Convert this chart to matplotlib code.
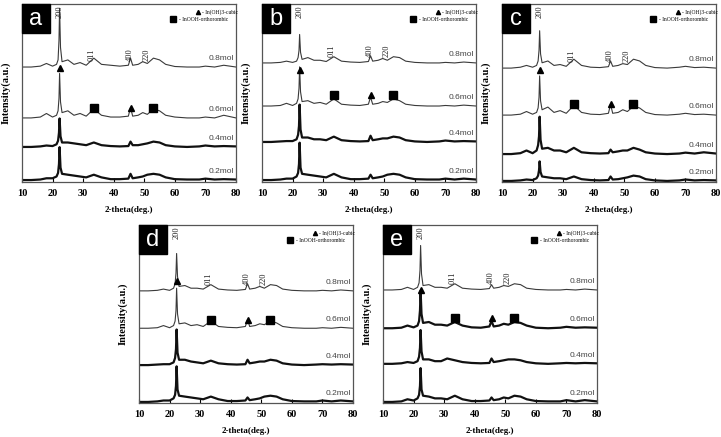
import matplotlib
matplotlib.use('Agg')
import matplotlib.pyplot as plt
from matplotlib.patches import Rectangle

# 2-theta grid shared by all patterns
two_theta = [10, 13, 16, 18, 20, 21.3, 21.8, 22.1, 22.3, 22.6, 23.1, 25, 27, 29, 31, 33.5, 36, 39, 42,
             44.8, 45.5, 46.2, 48, 49.5, 51, 53, 55, 57, 60, 64, 68, 70, 73, 76, 80]

mol_labels = ['0.8mol', '0.6mol', '0.4mol', '0.2mol']

# intensities above each pattern's own baseline (a.u.)
a08 = [0, 0, 0.5, 2, 0.5, 1.5, 4, 15, 33, 11, 3, 4, 1.5, 2.5, 1, 5, 1.5, 1, 0.5, 1, 5, 1, 1.5, 3, 2, 5, 4, 1.5, 0.3, 0, 0, 0.5, 0, 1, 0]
a06 = [0, 0, 0.5, 2.5, 0.5, 1.5, 4, 11, 25, 9, 3, 4, 1.5, 2.5, 1, 5, 1.5, 0.5, 0.5, 1, 6, 1, 1.5, 3, 2, 5, 4, 1.5, 0.5, 0, 0, 0.5, 0, 1.5, 0]
a04 = [0, 0, 0.3, 0.8, 0.5, 1.5, 3.5, 8, 16, 6, 2.5, 2.5, 2, 1.5, 1, 2.5, 1, 0.5, 0.3, 0.5, 3, 1, 1, 1.5, 2, 3, 2.5, 1, 0.3, 0, 0.3, 0.8, 0.3, 0.5, 0.3]
a02 = [0, 0, 0.3, 1, 1, 2, 4, 9, 18.5, 7, 3.5, 3, 2.5, 2, 1.5, 3, 1.5, 0.5, 0.5, 0.8, 3.5, 1, 1.5, 2, 3, 3.5, 3, 1.5, 0.5, 0.3, 0.3, 0.8, 0.3, 0.5, 0.3]

b08 = [0, 0, 0.3, 1, 0.3, 1, 3, 7, 16, 6, 2, 3, 1.5, 1.5, 0.8, 3.5, 1, 0.5, 0.3, 0.8, 4, 1, 1.5, 2.5, 1.5, 3.5, 3, 1, 0.3, 0, 0, 0.3, 0, 0.5, 0]
b06 = [0, 0, 0.3, 1.5, 0.3, 1.5, 4, 10, 22, 8, 2.5, 3, 1.5, 2, 1, 4, 1, 0.5, 0.3, 1, 5, 1, 1.5, 2.5, 2, 4, 3, 1, 0.3, 0, 0, 0.3, 0, 0.5, 0]
b04 = [0, 0, 0.3, 0.5, 0.5, 1.5, 4, 9, 21, 7, 2.5, 2.5, 1.5, 1.5, 1, 3, 1, 0.5, 0.3, 0.5, 3.5, 1, 1.5, 2, 2, 3, 2.5, 1, 0.3, 0, 0.3, 0.8, 0.3, 0.5, 0.3]
b02 = [0, 0, 0.3, 0.8, 0.8, 2, 4, 9, 21, 7, 3.5, 3, 2.5, 2, 1.5, 3.5, 1.5, 0.5, 0.5, 0.8, 3, 1, 1.5, 2, 3, 3.5, 3, 1.5, 0.5, 0.3, 0.3, 0.8, 0.3, 0.8, 0.3]

c08 = [0, 0, 0.5, 1.5, 0.5, 1.5, 4, 10, 21, 8, 3, 4, 1.5, 2, 1, 5, 1.5, 0.5, 0.3, 0.8, 4, 1, 1.5, 2.5, 2, 5, 4, 1.5, 0.3, 0, 0.5, 1, 0.3, 0.5, 0]
c06 = [0, 0, 0.5, 2, 0.5, 1.5, 4, 10, 22, 8, 3, 4.5, 1.5, 2.5, 1, 5.5, 1.5, 0.5, 0.3, 1, 6, 1, 1.5, 3, 2, 5, 4, 1.5, 0.3, 0, 0.5, 1, 0.3, 0.5, 0]
c04 = [0, 0, 0.5, 2, 0.5, 2, 5, 10, 21, 8, 3, 3.5, 2, 2, 1, 3.5, 1, 0.5, 0.3, 0.5, 2.5, 1, 1.5, 2, 2, 3.5, 2.5, 1, 0.3, 0, 0.3, 0.8, 0.3, 1, 0.3]
c02 = [0, 0, 0.3, 0.8, 0.5, 1.5, 3, 6, 11, 5, 2.5, 2, 1.5, 1.5, 1, 2.5, 1, 0.5, 0.3, 0.5, 2.5, 0.8, 1, 1.5, 2, 3, 2.5, 1, 0.3, 0, 0.3, 0.8, 0.3, 0.5, 0.3]

d08 = [0, 0, 0.3, 1, 0.3, 1.5, 4, 10, 21, 8, 2.5, 3, 1.5, 1.5, 1, 3.5, 1, 0.5, 0.3, 0.8, 4, 1, 1.5, 2.5, 1.5, 3.5, 3, 1, 0.3, 0, 0, 0.3, 0, 0.5, 0]
d06 = [0, 0, 0.3, 1.5, 0.3, 1.5, 4, 10, 22.5, 8, 2.5, 3, 1.5, 2, 1, 4, 1, 0.5, 0.3, 1, 5, 1, 1.5, 2.5, 2, 4, 3, 1, 0.3, 0, 0, 0.3, 0, 0.5, 0]
d04 = [0, 0, 0.3, 0.5, 0.5, 1.5, 4, 9, 20, 7, 3, 3, 2, 1.5, 1, 2.5, 1, 0.5, 0.3, 0.5, 3, 1, 1.5, 2, 2, 3, 2.5, 1, 0.3, 0, 0.3, 0.5, 0.3, 0.5, 0.3]
d02 = [0, 0, 0.3, 0.8, 0.8, 2, 4, 9, 20, 7, 3.5, 3, 2.5, 2, 1.5, 3, 1.5, 0.5, 0.5, 0.8, 2.5, 1, 1.5, 2, 3, 3.5, 3, 1.5, 0.5, 0.3, 0.3, 0.8, 0.3, 0.8, 0.3]

e08 = [0, 0, 0.3, 1.5, 0.3, 1.5, 4, 11, 25, 9, 2.5, 3, 1.5, 1.5, 1, 3.5, 1, 0.5, 0.3, 0.8, 3, 1, 1.5, 2.5, 2, 3.5, 3, 1, 0.3, 0, 0, 0.3, 0, 0.5, 0]
e06 = [0, 0, 0.3, 1.5, 0.5, 1.5, 4, 10, 21, 8, 3, 3.5, 2, 2, 1.5, 3.5, 1.5, 0.5, 0.3, 1, 4, 1, 1.5, 2.5, 2, 3.5, 3, 1.5, 0.3, 0, 0.3, 0.8, 0.3, 0.5, 0.3]
e04 = [0, 0, 0.3, 1, 0.5, 1.5, 4, 9, 19, 7, 2.5, 2.5, 1.5, 1.5, 3, 2, 1, 0.5, 0.3, 0.5, 3, 1, 1.5, 2, 2.5, 2.5, 2, 1, 0.3, 0, 0.3, 0.5, 0.3, 0.5, 0.3]
e02 = [0, 0, 0.3, 1.5, 0.8, 2, 4, 9, 19, 7, 3.5, 3, 2, 2, 1.5, 3.5, 1.5, 0.5, 0.5, 0.8, 2.5, 1, 1.5, 2.5, 2, 3.5, 3, 1.5, 0.5, 0.3, 0.3, 1, 0.3, 1, 0.3]

# stacking offsets (0.8, 0.6, 0.4, 0.2 mol)
a_offsets = [64.6, 36, 19.7, 1.1]
b_offsets = [66.9, 42.7, 22.5, 1.1]
c_offsets = [64, 37.6, 15.7, 0.6]
d_offsets = [63, 42, 21.3, 0.6]
e_offsets = [63.5, 42, 22, 0.6]

# which patterns are printed with the heavy (noisy) trace
a_heavy = [False, False, True, True]
b_heavy = [False, False, True, True]
c_heavy = [False, False, True, True]
d_heavy = [False, False, True, True]
e_heavy = [False, True, True, True]

# phase markers: In(OH)3 triangles, InOOH squares
tri_x = [22.3, 45.5]
sq_x = [33.6, 53]
a_marks = [64, 41.6]
b_marks = [63, 49]
c_marks = [63, 44]
d_marks = [68.5, 46.6]
e_marks = [63.5, 48]

hkl = ['200', '011', '400', '220']
hkl_x = [22.3, 32.8, 45.3, 50.8]

panels = {
    'a': ([a08, a06, a04, a02], a_offsets, a_heavy, a_marks, [0.0305, 0.5835]),
    'b': ([b08, b06, b04, b02], b_offsets, b_heavy, b_marks, [0.3634, 0.5835]),
    'c': ([c08, c06, c04, c02], c_offsets, c_heavy, c_marks, [0.6963, 0.5835]),
    'd': ([d08, d06, d04, d02], d_offsets, d_heavy, d_marks, [0.1928, 0.0778]),
    'e': ([e08, e06, e04, e02], e_offsets, e_heavy, e_marks, [0.5312, 0.0778]),
}

serif = ['Liberation Serif', 'DejaVu Serif']
sans = ['Liberation Sans', 'DejaVu Sans']

fig = plt.figure(figsize=(7.21, 4.37), dpi=100)

for letter, (curves, offsets, heavy, marks, pos) in panels.items():
    ax = fig.add_axes([pos[0], pos[1], 0.2968, 0.4073])
    for prof, off, thick in zip(curves, offsets, heavy):
        ax.plot(two_theta, [v + off for v in prof],
                color='#111111' if thick else '#3a3a3a',
                lw=1.6 if thick else 0.8)
    for lab, off in zip(mol_labels, offsets):
        ax.text(79.3, off + 3.0, lab, ha='right', va='bottom', fontsize=6,
                family=sans, color='#444444')

    # phase markers on the 0.6 mol pattern
    ax.plot(tri_x[0], marks[0], marker='^', color='black', ms=5, ls='none')
    ax.plot(tri_x[1], marks[1], marker='^', color='black', ms=5, ls='none')
    ax.plot(sq_x, [marks[1], marks[1]], marker='s', color='black', ms=5.5, ls='none')

    # hkl labels over the 0.8 mol pattern
    ax.text(hkl_x[0], 99.5, hkl[0], rotation=90, ha='center', va='top',
            fontsize=6, family=serif, color='#222222')
    for h, hx in zip(hkl[1:], hkl_x[1:]):
        ax.text(hx, offsets[0] + 3.5, h, rotation=90, ha='center', va='bottom',
                fontsize=6, family=serif, color='#222222')

    # small legend, top right
    ax.plot(67.6, 95.5, marker='^', color='black', ms=3, ls='none')
    ax.text(68.9, 95.5, '- In(OH)3-cubic', fontsize=4, ha='left', va='center', family=serif)
    ax.plot(59.4, 91.4, marker='s', color='black', ms=4.5, ls='none')
    ax.text(61.3, 91.4, '- InOOH-orthorombic', fontsize=4, ha='left', va='center', family=serif)

    # panel letter in a black box
    ax.add_patch(Rectangle((0, 0.837), 0.131, 0.163, transform=ax.transAxes,
                           color='black', zorder=5, clip_on=False))
    ax.text(0.065, 0.915, letter, transform=ax.transAxes, ha='center', va='center',
            color='white', fontsize=17, family=sans, zorder=6)

    ax.set_xlim(10, 80)
    ax.set_ylim(0, 100)
    ax.set_yticks([])
    ax.set_xticks(range(10, 81, 10))
    ax.tick_params(axis='x', direction='in', length=3, width=0.8, pad=5)
    for t in ax.get_xticklabels():
        t.set_family(serif)
        t.set_fontweight('bold')
        t.set_fontsize(7.5)
    for s in ax.spines.values():
        s.set_color('#555555')
        s.set_linewidth(0.9)
    ax.set_xlabel('2-theta(deg.)', family=serif, fontweight='bold', fontsize=6.5, labelpad=6)
    ax.set_ylabel('Intensity(a.u.)', family=serif, fontweight='bold', fontsize=7.5, labelpad=8)

plt.savefig('out.png', dpi=100)
